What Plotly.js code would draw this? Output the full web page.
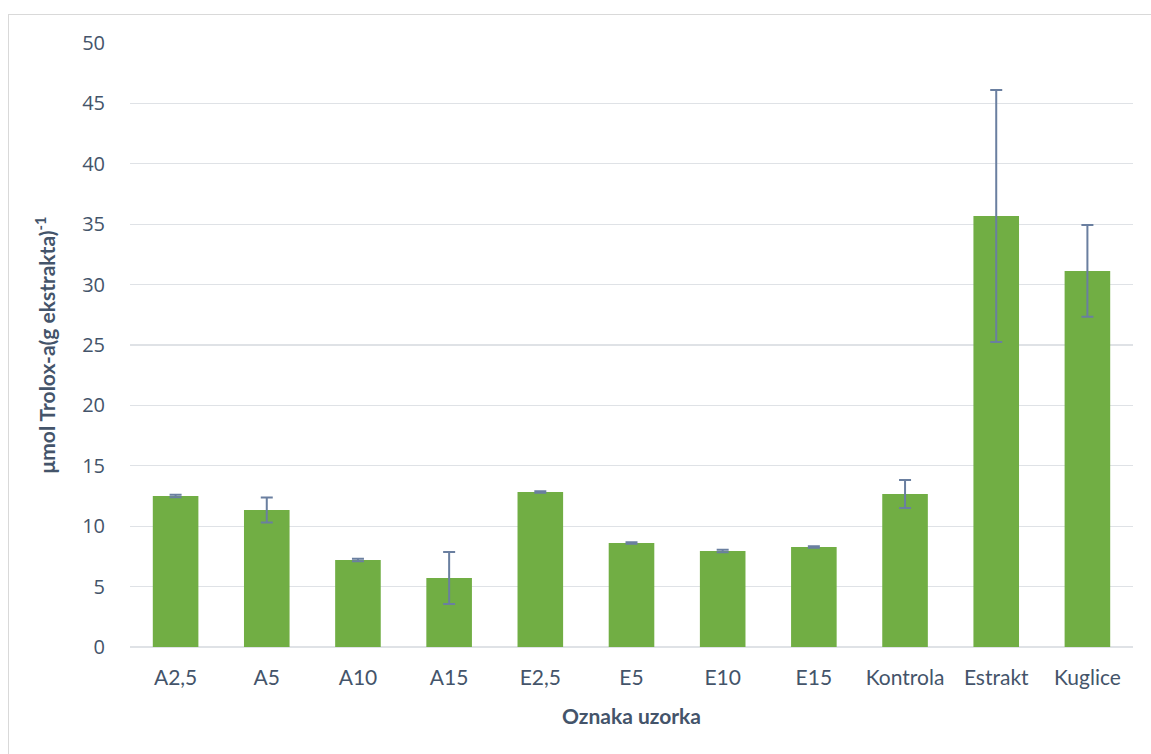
<!DOCTYPE html>
<html>
<head>
<meta charset="utf-8">
<script src="https://cdn.plot.ly/plotly-3.0.1.min.js"></script>
<style>
html,body{margin:0;padding:0;background:#fff;}
#chart{width:1151px;height:754px;position:relative;}
#frame{position:absolute;left:8px;top:14px;width:1150px;height:760px;border:1px solid #d9d9d9;pointer-events:none;}
</style>
</head>
<body>
<div id="chart"></div>
<div id="frame"></div>
<script>
const categories = ["A2,5","A5","A10","A15","E2,5","E5","E10","E15","Kontrola","Estrakt","Kuglice"];
const values = [12.5, 11.34, 7.2, 5.71, 12.83, 8.61, 7.95, 8.28, 12.67, 35.68, 31.13];
const errors = [0.1, 1.03, 0.1, 2.15, 0.06, 0.06, 0.1, 0.06, 1.16, 10.43, 3.8];
const yTicks = [0,5,10,15,20,25,30,35,40,45,50];

const textColor = "#44546A";

const trace = {
  type: "bar",
  x: categories,
  y: values,
  width: 0.5,
  marker: {color: "#71ae44", line: {width: 0}},
  error_y: {type: "data", array: errors, visible: true, color: "#6a7fa0", thickness: 2, width: 6},
  hoverinfo: "x+y"
};

const layout = {
  width: 1151,
  height: 754,
  margin: {l: 130, r: 18, t: 43, b: 107},
  paper_bgcolor: "#ffffff",
  plot_bgcolor: "#ffffff",
  showlegend: false,
  bargap: 0.5,
  xaxis: {
    type: "category",
    tickfont: {family: "Lato, sans-serif", size: 21, color: textColor},
    ticks: "",
    ticklabelstandoff: 16,
    showgrid: false,
    showline: false,
    title: {text: "Oznaka uzorka", font: {family: "Lato, sans-serif", size: 21, color: textColor, weight: "bold"}, standoff: 21}
  },
  yaxis: {
    range: [0, 50],
    tickvals: yTicks,
    tickfont: {family: "Open Sans, sans-serif", size: 20, color: textColor},
    ticks: "",
    ticklabelstandoff: 24,
    showgrid: true,
    gridcolor: "#dfe2e6",
    gridwidth: 1.3,
    zeroline: true,
    zerolinecolor: "#dfe2e6",
    zerolinewidth: 1.3,
    showline: false,
    title: {text: "μmol Trolox-a(g ekstrakta)<sup>-1</sup>", font: {family: "Lato, sans-serif", size: 21, color: textColor, weight: "bold"}, standoff: 20}
  }
};

Plotly.newPlot("chart", [trace], layout, {displayModeBar: false, staticPlot: true});
</script>
</body>
</html>
